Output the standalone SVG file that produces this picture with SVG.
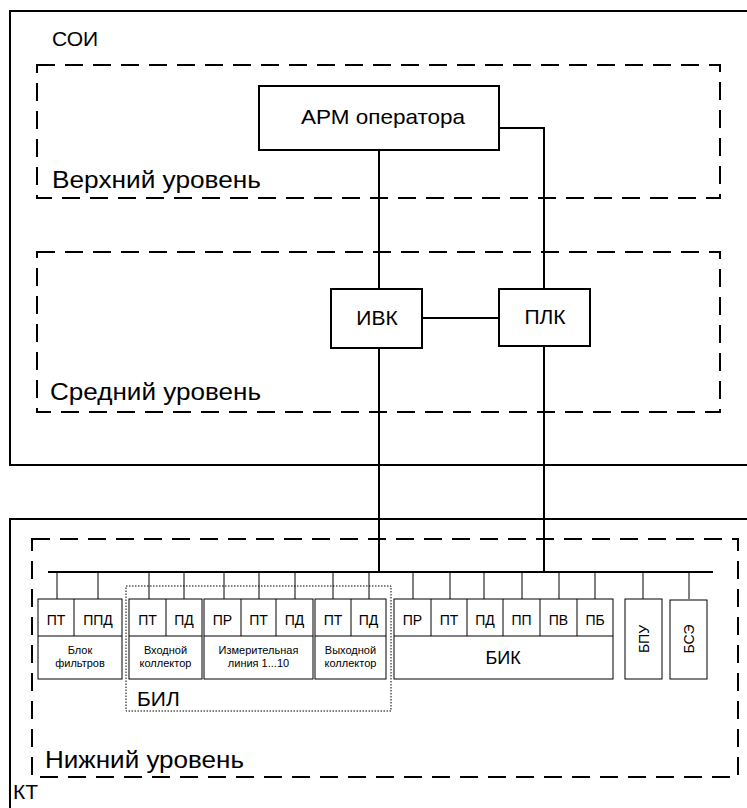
<svg xmlns="http://www.w3.org/2000/svg" width="747" height="808" viewBox="0 0 747 808">
<style>
text{font-family:"Liberation Sans",Arial,sans-serif;fill:#000}
.frame{fill:none;stroke:#000;stroke-width:2}
.level{fill:none;stroke:#000;stroke-width:2;stroke-dasharray:18 10}
.box{fill:#fff;stroke:#000;stroke-width:2}
.blk{fill:#fff;stroke:#000;stroke-width:1}
.wire{fill:none;stroke:#000;stroke-width:2}
.drop{fill:none;stroke:#000;stroke-width:1}
.dot{fill:none;stroke:#000;stroke-width:1;stroke-dasharray:1.5 1.5}
.big{font-size:24px}
.mid{font-size:21px}
.sen{font-size:14px;text-anchor:middle}
.sm{font-size:11px;text-anchor:middle}
.c{text-anchor:middle}
</style>
<rect width="747" height="808" fill="#fff"/>
<g id="soi">
<path class="frame" d="M760 11 H10 V465 H760"/>
<text class="mid" x="52" y="46">СОИ</text>
</g>
<g id="upper-level">
<rect class="level" x="37" y="65" width="683" height="133"/>
<text class="big" x="52" y="188" textLength="209" lengthAdjust="spacingAndGlyphs">Верхний уровень</text>
</g>
<g id="middle-level">
<rect class="level" x="37" y="252" width="683" height="160"/>
<text class="big" x="50" y="400" textLength="211" lengthAdjust="spacingAndGlyphs">Средний уровень</text>
</g>
<g id="kt">
<path class="frame" d="M760 519 H10 V820"/>
<text class="mid" x="13" y="799">КТ</text>
</g>
<g id="lower-level">
<rect class="level" x="32" y="539" width="706" height="238"/>
<text class="big" x="45" y="768" textLength="199" lengthAdjust="spacingAndGlyphs">Нижний уровень</text>
</g>
<g id="connectors">
<path class="wire" d="M379 150 V289"/>
<path class="wire" d="M499 128 H544 V289"/>
<path class="wire" d="M422 318 H499"/>
<path class="wire" d="M379 348 V572"/>
<path class="wire" d="M544 346 V572"/>
<path class="wire" d="M48 572 H713"/>
<path class="drop" d="M57 572V599M98 572V599M149 572V599M184 572V599M224 572V599M259 572V599M295 572V599M333 572V599M369 572V599M413 572V599M450 572V599M484 572V599M522 572V599M559 572V599M595 572V599M643 572V599M689 572V599"/>
</g>
<g id="arm">
<rect class="box" x="259" y="86" width="240" height="64"/>
<text class="mid c" x="383" y="124" textLength="164" lengthAdjust="spacingAndGlyphs">АРМ оператора</text>
</g>
<g id="ivk">
<rect class="box" x="331" y="289" width="91" height="59"/>
<text class="mid c" x="377" y="325">ИВК</text>
</g>
<g id="plk">
<rect class="box" x="499" y="289" width="91" height="57"/>
<text class="mid c" x="545" y="324">ПЛК</text>
</g>
<g id="bil">
<rect class="dot" x="126" y="586" width="265" height="125"/>
<text class="mid" x="137" y="706">БИЛ</text>
</g>
<g id="filter-block">
<rect class="blk" x="38" y="599" width="84" height="80"/>
<path class="drop" d="M38 636H122M74 599V636"/>
<text class="sen" x="56" y="625">ПТ</text>
<text class="sen" x="98" y="625">ППД</text>
<text class="sm" x="80" y="654">Блок</text>
<text class="sm" x="80" y="667">фильтров</text>
</g>
<g id="inlet-collector">
<rect class="blk" x="129" y="599" width="73" height="80"/>
<path class="drop" d="M129 636H202M166 599V636"/>
<text class="sen" x="147.5" y="625">ПТ</text>
<text class="sen" x="184" y="625">ПД</text>
<text class="sm" x="165.5" y="654">Входной</text>
<text class="sm" x="165.5" y="667">коллектор</text>
</g>
<g id="measuring-line">
<rect class="blk" x="204" y="599" width="109" height="80"/>
<path class="drop" d="M204 636H313M241 599V636M276 599V636"/>
<text class="sen" x="222.5" y="625">ПР</text>
<text class="sen" x="258.5" y="625">ПТ</text>
<text class="sen" x="294.5" y="625">ПД</text>
<text class="sm" x="258.5" y="654">Измерительная</text>
<text class="sm" x="258.5" y="667">линия 1...10</text>
</g>
<g id="outlet-collector">
<rect class="blk" x="315" y="599" width="71" height="80"/>
<path class="drop" d="M315 636H386M351 599V636"/>
<text class="sen" x="333" y="625">ПТ</text>
<text class="sen" x="368.5" y="625">ПД</text>
<text class="sm" x="350.5" y="654">Выходной</text>
<text class="sm" x="350.5" y="667">коллектор</text>
</g>
<g id="bik">
<rect class="blk" x="394" y="599" width="219" height="80"/>
<path class="drop" d="M394 636H613M431 599V636M467 599V636M503 599V636M540 599V636M577 599V636"/>
<text class="sen" x="412.5" y="625">ПР</text>
<text class="sen" x="449" y="625">ПТ</text>
<text class="sen" x="485" y="625">ПД</text>
<text class="sen" x="521.5" y="625">ПП</text>
<text class="sen" x="558.5" y="625">ПВ</text>
<text class="sen" x="595" y="625">ПБ</text>
<text class="c" font-size="18" x="503" y="664">БИК</text>
</g>
<g id="bpu">
<rect class="blk" x="625" y="599" width="37" height="80"/>
<text class="sen" transform="translate(649 639) rotate(-90)">БПУ</text>
</g>
<g id="bse">
<rect class="blk" x="670" y="600" width="37" height="79"/>
<text class="sen" transform="translate(694 639) rotate(-90)">БСЭ</text>
</g>
</svg>
